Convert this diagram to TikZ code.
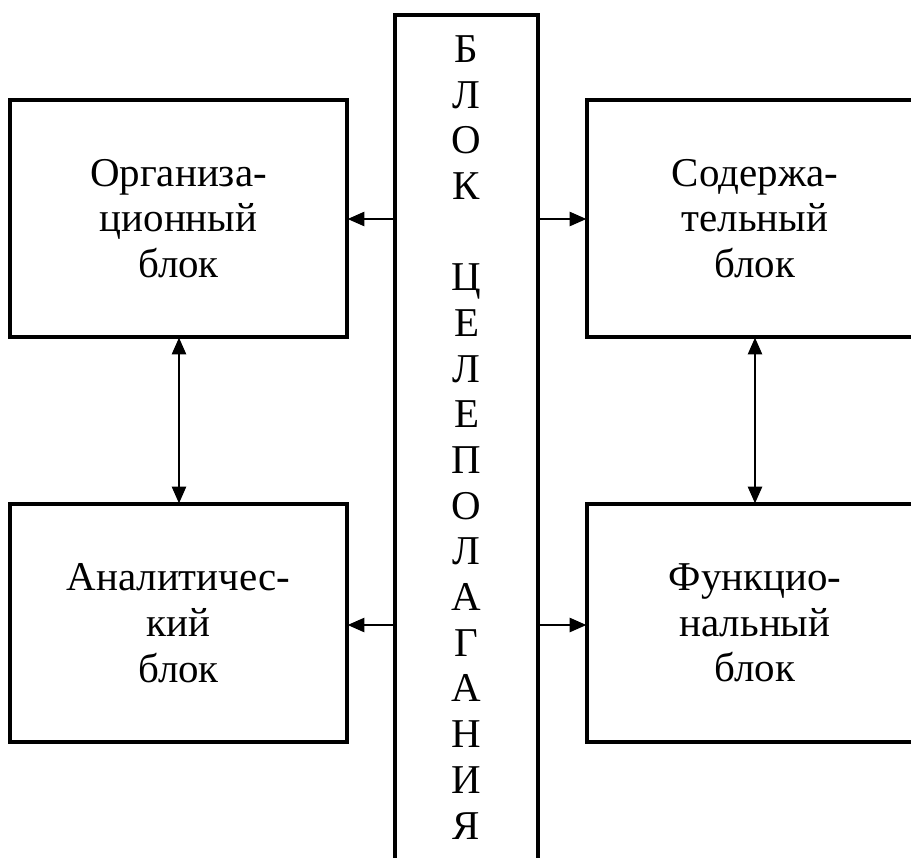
\documentclass[tikz,border=0pt]{standalone}
\usepackage{fontspec}
\setmainfont{Liberation Serif}
\usetikzlibrary{arrows.meta}
\begin{document}
\begin{tikzpicture}[x=0.359pt,y=-0.359pt,
  blockbox/.style={draw=none},
  frame/.style={line width=1.1pt},
  link/.style={line width=0.9pt,-{Triangle[length=6pt,width=5pt]}},
  dlink/.style={line width=0.9pt,{Triangle[length=6pt,width=5pt]}-{Triangle[length=6pt,width=5pt]}},
  txt/.style={align=center,inner sep=0pt,font=\fontsize{14.7pt}{16.4pt}\selectfont}]
\useasboundingbox (0,0) rectangle (911,857);
\clip (0,0) rectangle (911,857);
% column
\draw[frame] (395,880) -- (395,15) -- (538,15) -- (538,880);
\coordinate (cl) at (395,219);
\coordinate (cr) at (538,219);
\coordinate (cl2) at (395,625);
\coordinate (cr2) at (538,625);
\node[txt,anchor=north] (col) at (466.5,35) {Б\\Л\\О\\К\\\mbox{}\\Ц\\Е\\Л\\Е\\П\\О\\Л\\А\\Г\\А\\Н\\И\\Я};
% boxes
\draw[frame] (10,100) rectangle (347,337);
\node[blockbox,minimum width=337*0.359pt,minimum height=237*0.359pt] (org) at (178.5,218.5) {};
\node[txt] at (org.center) {Организа-\\ционный\\блок};
\draw[frame] (10,504) rectangle (347,742);
\node[blockbox,minimum width=337*0.359pt,minimum height=238*0.359pt] (ana) at (178.5,623) {};
\node[txt] at (ana.center) {Аналитичес-\\кий\\блок};
\draw[frame] (587,100) rectangle (923,337);
\node[blockbox,minimum width=336*0.359pt,minimum height=237*0.359pt] (sod) at (755,218.5) {};
\node[txt] at (sod.center) {Содержа-\\тельный\\блок};
\draw[frame] (587,504) rectangle (923,742);
\node[blockbox,minimum width=336*0.359pt,minimum height=238*0.359pt] (fun) at (755,623) {};
\node[txt] at (fun.center) {Функцио-\\нальный\\блок};
% arrows
\draw[link] (cl) -- (org.east |- cl);
\draw[link] (cr) -- (sod.west |- cr);
\draw[link] (cl2) -- (ana.east |- cl2);
\draw[link] (cr2) -- (fun.west |- cr2);
\draw[dlink] (org.south -| 179,0) -- (ana.north -| 179,0);
\draw[dlink] (sod.south) -- (fun.north);
\end{tikzpicture}
\end{document}
